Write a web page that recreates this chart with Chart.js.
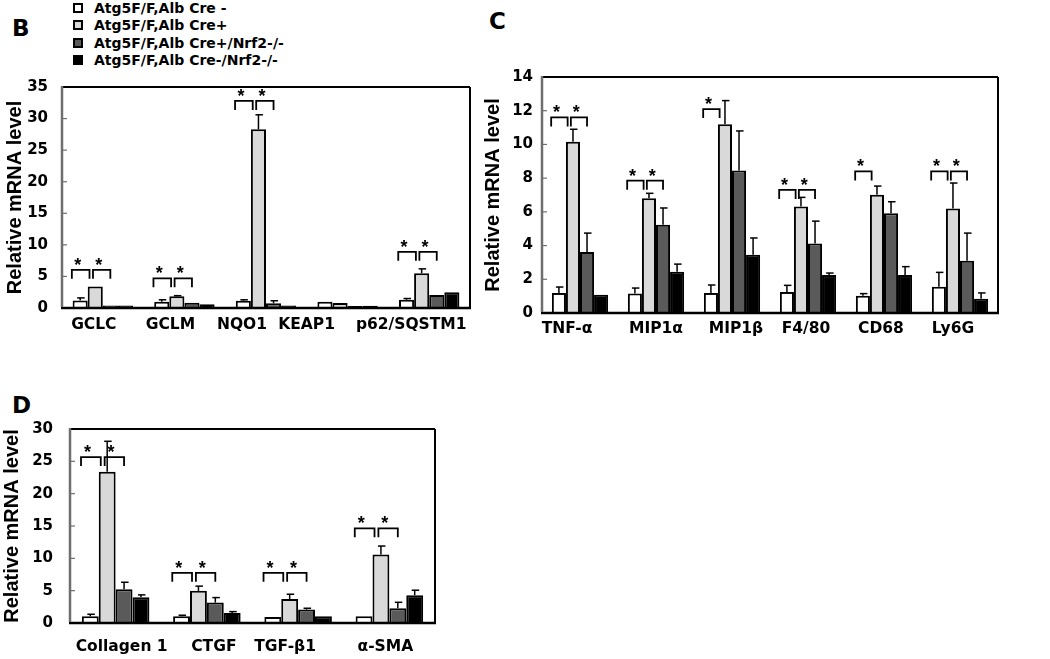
<!DOCTYPE html>
<html><head><meta charset="utf-8">
<script src="https://cdn.jsdelivr.net/npm/chart.js@4.4.1/dist/chart.umd.min.js"></script>
<style>
html,body{margin:0;padding:0;background:#fff;}
body{width:1050px;height:659px;position:relative;overflow:hidden;font-family:"DejaVu Sans",sans-serif;}
canvas{position:absolute;}
.letter{position:absolute;font:bold 23px "DejaVu Sans";line-height:23px;color:#000;}
.lg{position:absolute;left:73px;height:18px;font:bold 14px "DejaVu Sans";line-height:18px;color:#000;white-space:nowrap;}
.lg span.sw{position:absolute;left:0;top:4px;width:10px;height:10px;box-sizing:border-box;border:2px solid #000;}
.lg span.tx{position:absolute;left:21px;top:0;}
</style></head>
<body>
<div class="letter" style="left:12px;top:17px">B</div>
<div class="letter" style="left:489px;top:10px">C</div>
<div class="letter" style="left:12px;top:394px">D</div>
<div id="legend"></div>
<canvas id="cB" width="480" height="345" style="left:0;top:0"></canvas>
<canvas id="cC" width="570" height="345" style="left:480px;top:0"></canvas>
<canvas id="cD" width="480" height="279" style="left:0;top:380px"></canvas>
<script>
// ---- shared ----
const SERIES = ['Atg5F/F,Alb Cre -', 'Atg5F/F,Alb Cre+', 'Atg5F/F,Alb Cre+/Nrf2-/-', 'Atg5F/F,Alb Cre-/Nrf2-/-'];
const COLORS = ['#ffffff', '#d9d9d9', '#5a5a5a', '#000000'];
const Y_TITLE = 'Relative mRNA level';

// ---- panel B ----
const B_CATS = ['GCLC', 'GCLM', 'NQO1', 'KEAP1', 'p62/SQSTM1'];
const B_CRE_NEG      = [1.2, 1.0, 1.15, 1.0, 1.3];
const B_CRE_POS      = [3.4, 1.85, 28.3, 0.8, 5.5];
const B_CRE_POS_NRF2 = [0.4, 0.85, 0.75, 0.3, 2.05];
const B_CRE_NEG_NRF2 = [0.4, 0.6, 0.4, 0.35, 2.5];
const B_ERR_CRE_NEG      = [0.4, 0.3, 0.15, 0, 0.2];
const B_ERR_CRE_POS      = [0, 0.1, 2.3, 0, 0.7];
const B_ERR_CRE_POS_NRF2 = [0, 0, 0.4, 0, 0];
const B_ERR_CRE_NEG_NRF2 = [0, 0, 0, 0, 0];
const B_Y_MAX = 35, B_Y_STEP = 5;
// significance brackets: [category index, pair (0 = Cre- vs Cre+, 1 = Cre+ vs Cre+/Nrf2-/-), level]
const B_SIG = [[0,0,6.05],[0,1,6.05],[1,0,4.7],[1,1,4.7],[2,0,32.8],[2,1,32.8],[4,0,8.9],[4,1,8.9]];

// ---- panel C ----
const C_CATS = ['TNF-α', 'MIP1α', 'MIP1β', 'F4/80', 'CD68', 'Ly6G'];
const C_CRE_NEG      = [1.19, 1.15, 1.19, 1.25, 1.03, 1.56];
const C_CRE_POS      = [10.16, 6.8, 11.2, 6.32, 7.02, 6.2];
const C_CRE_POS_NRF2 = [3.62, 5.24, 8.46, 4.13, 5.91, 3.1];
const C_CRE_NEG_NRF2 = [1.09, 2.45, 3.46, 2.25, 2.25, 0.85];
const C_ERR_CRE_NEG      = [0.35, 0.33, 0.47, 0.39, 0.12, 0.85];
const C_ERR_CRE_POS      = [0.74, 0.3, 1.4, 0.54, 0.51, 1.51];
const C_ERR_CRE_POS_NRF2 = [1.12, 0.99, 2.34, 1.32, 0.69, 1.64];
const C_ERR_CRE_NEG_NRF2 = [0, 0.45, 0.99, 0.12, 0.5, 0.34];
const C_Y_MAX = 14, C_Y_STEP = 2;
const C_SIG = [[0,0,11.6],[0,1,11.6],[1,0,7.85],[1,1,7.85],[2,0,12.1],[3,0,7.3],[3,1,7.3],[4,0,8.4],[5,0,8.4],[5,1,8.4]];

// ---- panel D ----
const D_CATS = ['Collagen 1', 'CTGF', 'TGF-β1', 'α-SMA'];
const D_CRE_NEG      = [1.03, 1.03, 0.93, 1.03];
const D_CRE_POS      = [23.4, 4.97, 3.72, 10.6];
const D_CRE_POS_NRF2 = [5.2, 3.16, 2.07, 2.28];
const D_CRE_NEG_NRF2 = [4.0, 1.55, 1.03, 4.3];
const D_ERR_CRE_NEG      = [0.32, 0.17, 0, 0];
const D_ERR_CRE_POS      = [4.7, 0.73, 0.73, 1.3];
const D_ERR_CRE_POS_NRF2 = [1.1, 0.77, 0.21, 0.92];
const D_ERR_CRE_NEG_NRF2 = [0.35, 0.21, 0, 0.77];
const D_Y_MAX = 30, D_Y_STEP = 5;
const D_SIG = [[0,0,25.66],[0,1,25.66],[1,0,7.76],[1,1,7.76],[2,0,7.76],[2,1,7.76],[3,0,14.64],[3,1,14.64]];

// ---- legend (HTML) ----
const legendTops = [-1, 16, 34, 51];
const lgRoot = document.getElementById('legend');
SERIES.forEach((s, i) => {
  const d = document.createElement('div');
  d.className = 'lg';
  d.style.top = legendTops[i] + 'px';
  d.innerHTML = '<span class="sw" style="background:' + COLORS[i] + '"></span><span class="tx"></span>';
  d.querySelector('.tx').textContent = s;
  lgRoot.appendChild(d);
});

Chart.defaults.font.family = '"DejaVu Sans", sans-serif';
Chart.defaults.color = '#000';

function line(ctx, x1, y1, x2, y2) { ctx.beginPath(); ctx.moveTo(x1, y1); ctx.lineTo(x2, y2); ctx.stroke(); }

const annot = {
  id: 'annot',
  afterDatasetsDraw(chart, args, opts) {
    const ctx = chart.ctx, ys = chart.scales.y, xs = chart.scales.x, a = chart.chartArea;
    ctx.save();
    ctx.strokeStyle = '#000';
    ctx.lineCap = 'butt';
    // error bars (upper only)
    opts.errs.forEach((errArr, di) => {
      const meta = chart.getDatasetMeta(di);
      errArr.forEach((e, i) => {
        if (!e) return;
        const bar = meta.data[i];
        const v = chart.data.datasets[di].data[i];
        const yb = ys.getPixelForValue(v), yt = ys.getPixelForValue(v + e);
        ctx.lineWidth = 1.5;
        line(ctx, bar.x, yb, bar.x, yt);
        line(ctx, bar.x - 3, yt, bar.x + 4.5, yt);
      });
    });
    // significance brackets
    opts.sig.forEach(([ci, pair, lvl]) => {
      const m0 = chart.getDatasetMeta(0).data[ci];
      const m1 = chart.getDatasetMeta(1).data[ci];
      const m2 = chart.getDatasetMeta(2).data[ci];
      const w = m1.width;
      let x1, x2;
      if (pair === 0) { x1 = m0.x - 0.55 * w; x2 = m1.x - 0.38 * w; }
      else { x1 = m1.x - 0.15 * w; x2 = m2.x; }
      const yl = ys.getPixelForValue(lvl);
      ctx.lineWidth = 1.8;
      ctx.beginPath();
      ctx.moveTo(x1, yl + 9); ctx.lineTo(x1, yl); ctx.lineTo(x2, yl); ctx.lineTo(x2, yl + 9);
      ctx.stroke();
      ctx.fillStyle = '#000';
      ctx.font = 'bold 18px "Liberation Sans", Arial, sans-serif';
      ctx.textAlign = 'center';
      ctx.textBaseline = 'alphabetic';
      ctx.fillText('*', x1 + 0.33 * (x2 - x1), yl + 1);
    });
    // category labels (placed like the original figure, slightly shifted per label)
    ctx.fillStyle = '#000';
    ctx.font = 'bold 15.5px "DejaVu Sans", sans-serif';
    ctx.textAlign = 'center';
    ctx.textBaseline = 'middle';
    chart.data.labels.forEach((lab, i) => {
      ctx.fillText(lab, xs.getPixelForTick(i) + opts.labelShift[i], a.bottom + opts.labelY);
    });
    // frame: black top/right/bottom, grey left axis with inward tick marks
    ctx.lineWidth = 2;
    ctx.strokeStyle = '#000';
    line(ctx, a.left, a.top, a.right, a.top);
    line(ctx, a.right, a.top, a.right, a.bottom);
    ctx.lineWidth = 2.5;
    line(ctx, a.left - 1, a.bottom, a.right + 1, a.bottom);
    ctx.strokeStyle = '#6e6e6e';
    ctx.lineWidth = 2.5;
    line(ctx, a.left, a.top - 1, a.left, a.bottom - 1);
    ctx.lineWidth = 1.2;
    ys.ticks.forEach(t => {
      if (t.value <= ys.min || t.value >= ys.max) return;
      const yp = ys.getPixelForValue(t.value);
      line(ctx, a.left, yp, a.left + 5, yp);
    });
    ctx.restore();
  }
};

function makeChart(id, cats, vals, errs, sig, yMax, yStep, geo) {
  return new Chart(document.getElementById(id), {
    type: 'bar',
    data: {
      labels: cats,
      datasets: vals.map((v, i) => ({
        label: SERIES[i], data: v,
        backgroundColor: COLORS[i],
        borderColor: '#000', borderWidth: 2,
        categoryPercentage: 0.74, barPercentage: 1.0
      }))
    },
    options: {
      responsive: false, animation: false,
      layout: { padding: { top: geo.top, right: geo.right, left: 0, bottom: 0 } },
      plugins: { legend: { display: false }, tooltip: { enabled: false },
        annot: { errs: errs, sig: sig, labelShift: geo.shift, labelY: geo.labelY } },
      scales: {
        x: {
          grid: { display: false, drawTicks: false }, border: { display: false },
          ticks: { display: false },
          afterFit(s) { s.height = geo.xH; }
        },
        y: {
          min: 0, max: yMax,
          grid: { display: false, drawTicks: false }, border: { display: false },
          ticks: { stepSize: yStep, font: { size: 15, weight: 'bold' }, padding: geo.yPad },
          title: { display: true, text: Y_TITLE, font: { family: '"Liberation Sans", Arial, sans-serif', size: 20, weight: 'bold' }, padding: { top: geo.tPad, bottom: 0 } },
          afterFit(s) { s.width = geo.yW; }
        }
      }
    },
    plugins: [annot]
  });
}

makeChart('cB', B_CATS,
  [B_CRE_NEG, B_CRE_POS, B_CRE_POS_NRF2, B_CRE_NEG_NRF2],
  [B_ERR_CRE_NEG, B_ERR_CRE_POS, B_ERR_CRE_POS_NRF2, B_ERR_CRE_NEG_NRF2],
  B_SIG, B_Y_MAX, B_Y_STEP,
  { top: 87, right: 10, xH: 37, yW: 62, yPad: 14, tPad: 3, labelY: 17, shift: [-9, -14, -24, -41, -18] });

makeChart('cC', C_CATS,
  [C_CRE_NEG, C_CRE_POS, C_CRE_POS_NRF2, C_CRE_NEG_NRF2],
  [C_ERR_CRE_NEG, C_ERR_CRE_POS, C_ERR_CRE_POS_NRF2, C_ERR_CRE_NEG_NRF2],
  C_SIG, C_Y_MAX, C_Y_STEP,
  { top: 77, right: 52, xH: 32, yW: 62, yPad: 9, tPad: 1, labelY: 16, shift: [-13, 0, 4, -2, -3, -7] });

makeChart('cD', D_CATS,
  [D_CRE_NEG, D_CRE_POS, D_CRE_POS_NRF2, D_CRE_NEG_NRF2],
  [D_ERR_CRE_NEG, D_ERR_CRE_POS, D_ERR_CRE_POS_NRF2, D_ERR_CRE_NEG_NRF2],
  D_SIG, D_Y_MAX, D_Y_STEP,
  { top: 49, right: 45, xH: 36, yW: 70, yPad: 17, tPad: 0, labelY: 24, shift: [6, 7, -13, -4] });
</script>
</body></html>
